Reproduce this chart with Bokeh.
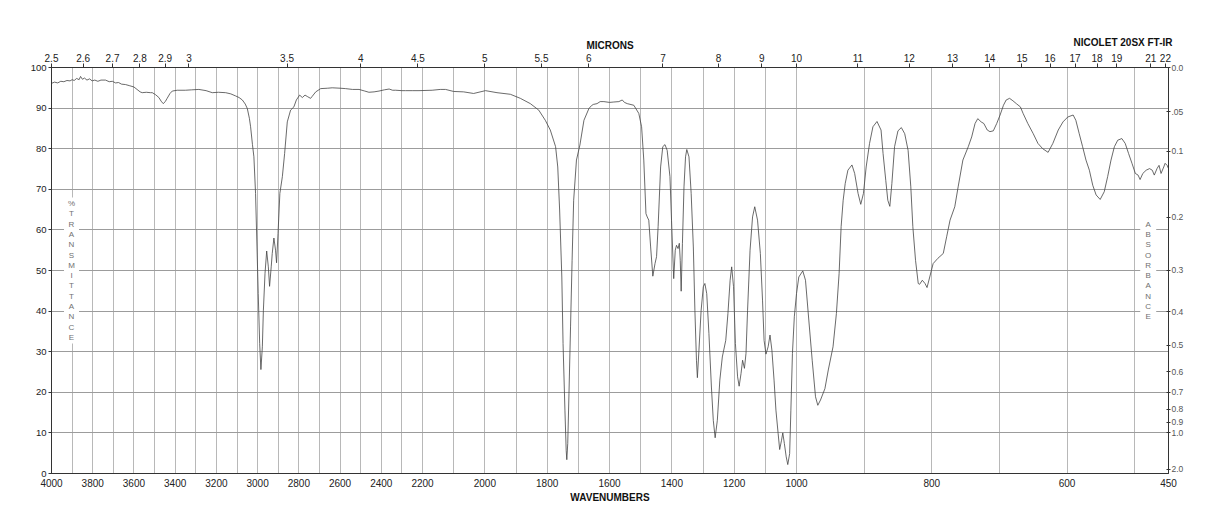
import numpy as np
from bokeh.plotting import figure
from bokeh.models import Range1d, LinearAxis, FixedTicker, Label, BoxAnnotation, ColumnDataSource, Title
from bokeh.embed import file_html
from bokeh.resources import INLINE

# ---------------- data ----------------
wavenumber = [
    4000, 3985, 3970, 3955, 3940, 3925, 3910, 3900, 3890, 3878, 3866, 3859, 3850, 3840, 3828,
    3815, 3803, 3790, 3775, 3760, 3738, 3720, 3705, 3689, 3675, 3660, 3641, 3620, 3600, 3585,
    3570, 3560, 3540, 3520, 3511, 3495, 3479, 3468, 3458, 3448, 3439, 3425, 3414, 3390, 3350,
    3320, 3285, 3250, 3220, 3190, 3155, 3130, 3107, 3090, 3074, 3060, 3050, 3040, 3034, 3025,
    3018, 3010, 3003, 2997, 2990, 2984, 2977, 2972, 2964, 2956, 2948, 2942, 2934, 2929, 2921,
    2913, 2908, 2901, 2892, 2880, 2869, 2856, 2840, 2824, 2812, 2796, 2783, 2770, 2757, 2743,
    2735, 2718, 2694, 2660, 2638, 2600, 2573, 2540, 2508, 2480, 2460, 2435, 2411, 2385, 2362,
    2345, 2330, 2300, 2282, 2250, 2217, 2169, 2143, 2126,
    2100, 2068, 2036, 1998, 1961, 1918, 1886, 1854, 1827, 1806, 1790, 1773, 1766, 1760, 1753,
    1749, 1743, 1739, 1737, 1734, 1730, 1725, 1720, 1715, 1706, 1695, 1682, 1666, 1658, 1652,
    1640, 1630, 1618, 1600, 1586, 1570, 1559, 1552, 1543, 1522, 1506, 1497, 1490, 1483, 1479,
    1474, 1468, 1461, 1454, 1449, 1444, 1436, 1429, 1422, 1415, 1406, 1401, 1394, 1389, 1385,
    1380, 1376, 1373, 1370, 1366, 1361, 1356, 1352, 1345, 1338, 1331, 1326, 1321, 1318, 1313,
    1306, 1299, 1294, 1288, 1281, 1273, 1267, 1261, 1254, 1246, 1238, 1227, 1220, 1213, 1208,
    1202, 1196, 1189, 1184, 1178, 1173, 1167, 1162, 1157, 1149, 1141, 1134, 1125, 1116, 1109,
    1104, 1098, 1091, 1085, 1079, 1072, 1066, 1059, 1054, 1048, 1044, 1039, 1033, 1028, 1022,
    1018, 1013, 1007, 1000, 996.6, 990.7, 986.7, 981.8, 976.8, 971.9, 968.5, 964.5,
    958, 953, 946, 941, 937, 934, 931, 928, 924, 918, 914, 909, 905, 901, 897,
    892, 887, 881, 875, 872, 868, 865, 862, 859, 855, 850, 845, 840, 835, 831,
    828, 824, 820, 818, 814, 810, 807, 803, 798, 791, 783, 778, 773, 766, 761,
    754, 746, 741, 736, 732, 727, 723, 718, 714, 709, 704, 699, 694, 690, 685,
    680, 675, 669, 665, 658, 650, 643, 636, 628, 621, 613, 606, 599, 591, 587,
    582, 577, 572, 567, 562, 557, 551, 545, 540, 535, 530, 525, 519, 514, 509,
    504, 499, 495, 492, 488, 483, 478, 474, 471, 467, 464, 461, 457, 455, 452, 450,
]
transmittance = [
    96.1, 96.4, 96.2, 96.6, 96.5, 96.8, 96.7, 97.0, 96.8, 97.3, 97.0, 97.8, 97.1, 97.4, 96.9,
    97.2, 96.7, 96.9, 96.6, 96.9, 96.9, 96.5, 96.6, 96.2, 96.3, 95.9, 95.8, 95.5, 95.2, 94.6,
    94.0, 93.8, 93.9, 93.8, 93.8, 93.3, 92.6, 91.7, 91.1, 91.6, 92.4, 93.6, 94.2, 94.4, 94.4,
    94.5, 94.6, 94.3, 93.8, 93.9, 93.8, 93.5, 93.0, 92.6, 92.0, 91.0, 89.9, 87.5, 85.4, 81.0,
    78.0, 69.0, 55.8, 44.3, 32.0, 25.6, 31.2, 40.2, 49.3, 54.8, 50.9, 46.1, 50.9, 54.2, 58.0,
    55.0, 51.9, 59.1, 69.0, 73.1, 78.8, 86.6, 89.5, 90.3, 92.0, 93.2, 92.6, 93.2, 92.8, 92.4,
    92.9, 94.0, 94.8, 94.9, 95.0, 94.9, 94.8, 94.6, 94.6, 94.2, 93.9, 94.0, 94.2, 94.5, 94.7,
    94.4, 94.4, 94.3, 94.3, 94.3, 94.3, 94.4, 94.6, 94.6,
    94.1, 94.0, 93.6, 94.3, 93.8, 93.4, 92.4, 91.1, 89.5, 87.0, 84.6, 80.5, 75.5, 64.9, 48.4,
    32.0, 15.6, 5.7, 3.4, 7.4, 19.7, 36.1, 52.5, 67.3, 77.2, 80.9, 87.0, 89.9, 90.6, 90.9,
    91.1, 91.6, 91.6, 91.4, 91.5, 91.6, 92.0, 91.4, 91.1, 90.7, 88.7, 85.4, 77.2, 64.0, 63.2,
    62.4, 55.8, 48.6, 51.7, 53.4, 60.8, 75.5, 80.5, 81.0, 79.6, 73.1, 62.4, 48.0, 55.0, 56.2,
    55.4, 56.7, 52.5, 44.9, 56.7, 70.6, 78.0, 79.8, 78.0, 69.0, 55.8, 40.2, 27.9, 23.6, 30.4,
    40.2, 46.0, 46.8, 44.3, 34.5, 21.3, 13.1, 8.8, 13.1, 23.0, 28.7, 32.8, 39.4, 47.6, 50.9,
    46.0, 32.0, 23.8, 21.5, 24.6, 27.9, 25.9, 29.6, 40.2, 55.0, 63.2, 65.7, 62.4, 54.2, 42.7,
    32.8, 29.4, 31.2, 34.1, 30.4, 23.0, 15.6, 9.9, 5.9, 8.2, 10.0, 7.4, 4.1, 2.2, 4.9,
    15.6, 29.6, 38.6, 44.3, 48.4, 49.9, 47.6, 37.8, 27.9, 18.9, 16.8, 18.1,
    20.9, 25.5, 31.2, 39.4, 49.3, 60.8, 67.3, 71.4, 74.7, 76.0, 73.9, 69.0, 66.3, 69.0, 75.5,
    81.3, 85.4, 86.7, 84.6, 78.8, 72.2, 67.3, 65.8, 71.4, 80.5, 84.4, 85.2, 83.7, 79.6, 70.6,
    60.8, 52.5, 46.8, 46.6, 47.6, 46.8, 45.8, 48.4, 51.7, 53.0, 54.2, 58.3, 62.4, 65.7, 70.6,
    77.2, 80.5, 82.9, 86.2, 87.4, 86.6, 86.2, 84.6, 84.2, 84.4, 86.2, 88.3, 90.7, 92.0, 92.4,
    91.8, 91.1, 90.3, 88.7, 86.2, 83.7, 81.3, 80.0, 79.1, 81.3, 84.6, 86.6, 87.8, 88.3, 87.0,
    83.7, 80.5, 77.2, 74.7, 71.0, 68.6, 67.5, 69.4, 73.1, 77.2, 80.5, 82.1, 82.5, 81.3, 78.8,
    76.4, 73.9, 73.5, 72.4, 73.9, 74.7, 75.1, 74.7, 73.5, 75.1, 75.9, 73.9, 75.5, 76.4, 75.9, 75.1,
]

wavenumber_ticks = [4000, 3800, 3600, 3400, 3200, 3000, 2800, 2600, 2400, 2200, 2000,
                    1800, 1600, 1400, 1200, 1000, 800, 600, 450]
micron_ticks = [2.5, 2.6, 2.7, 2.8, 2.9, 3, 3.5, 4, 4.5, 5, 5.5, 6, 7, 8, 9, 10,
                11, 12, 13, 14, 15, 16, 17, 18, 19, 21, 22]
micron_labels = ["2.5", "2.6", "2.7", "2.8", "2.9", "3", "3.5", "4", "4.5", "5", "5.5", "6",
                 "7", "8", "9", "10", "11", "12", "13", "14", "15", "16", "17", "18", "19",
                 "21", "22"]
absorbance_ticks = [0.0, 0.05, 0.1, 0.2, 0.3, 0.4, 0.5, 0.6, 0.7, 0.8, 0.9, 1.0, 2.0]
absorbance_labels = ["0.0", ".05", "0.1", "0.2", "0.3", "0.4", "0.5", "0.6", "0.7",
                     "0.8", "0.9", "1.0", "2.0"]
transmittance_ticks = list(range(0, 101, 10))

# ---------------- piecewise-linear wavenumber display scale ----------------
SCALE_WN = [450, 1000, 2200, 4000]
SCALE_U = [1117, 745, 371, 0]


def to_u(w):
    return float(round(float(np.interp(w, SCALE_WN, SCALE_U)), 4))


FONT = "Liberation Sans"

src = ColumnDataSource(dict(
    u=[to_u(w) for w in wavenumber],
    t=transmittance,
))

p = figure(frame_width=1117, frame_height=406,
           x_range=Range1d(0, 1117), y_range=Range1d(0, 100),
           output_backend="svg", toolbar_location=None,
           min_border_left=51, min_border_top=67, min_border_right=45, min_border_bottom=45,
           background_fill_color="white", border_fill_color="white")
p.outline_line_color = "#333333"

p.title = Title(text="NICOLET 20SX FT-IR", align="right", offset=-4, standoff=-22,
                vertical_align="bottom", text_font=FONT, text_font_size="10px",
                text_font_style="bold", text_color="#111111")

# grids
p.xgrid.ticker = FixedTicker(ticks=[to_u(w) for w in range(3900, 450, -100)])
p.ygrid.ticker = FixedTicker(ticks=list(range(10, 100, 10)))
p.xgrid.grid_line_color = "#b8b8b8"
p.ygrid.grid_line_color = "#9c9c9c"
p.xgrid.grid_line_width = 1
p.ygrid.grid_line_width = 1


def style_axis(ax, size):
    ax.axis_line_color = "#333333"
    ax.major_label_text_font = FONT
    ax.major_label_text_font_size = size
    ax.minor_tick_line_color = None
    ax.major_tick_line_color = "#333333"
    ax.axis_label_text_font = FONT
    ax.axis_label_text_font_size = "10px"
    ax.axis_label_text_font_style = "bold"
    ax.axis_label_text_color = "#111111"


# bottom: wavenumbers
xb = p.xaxis[0]
style_axis(xb, "10px")
xb.ticker = FixedTicker(ticks=[to_u(w) for w in wavenumber_ticks])
xb.major_label_overrides = {to_u(w): str(w) for w in wavenumber_ticks}
xb.major_tick_out = 0
xb.major_tick_in = 0
xb.major_label_standoff = 5
xb.major_label_text_color = "#222222"
xb.axis_label = "WAVENUMBERS"
xb.axis_label_standoff = 2

# left: % transmittance
yl = p.yaxis[0]
style_axis(yl, "9.5px")
yl.ticker = FixedTicker(ticks=transmittance_ticks)
yl.major_tick_out = 3
yl.major_tick_in = 0
yl.major_label_standoff = 2
yl.major_label_text_color = "#222222"

# top: microns
top_ticks = [to_u(10000.0 / m) for m in micron_ticks]
xt = LinearAxis(ticker=FixedTicker(ticks=top_ticks),
                major_label_overrides={t: l for t, l in zip(top_ticks, micron_labels)})
style_axis(xt, "10px")
xt.major_tick_out = 4
xt.major_tick_in = 0
xt.major_label_standoff = 2
xt.major_label_text_color = "#222222"
xt.axis_label = "MICRONS"
xt.axis_label_standoff = 0
p.add_layout(xt, "above")

# right: absorbance
abs_pos = [float(round(100.0 * 10 ** (-a), 4)) for a in absorbance_ticks]
yr = LinearAxis(ticker=FixedTicker(ticks=abs_pos),
                major_label_overrides={t: l for t, l in zip(abs_pos, absorbance_labels)})
style_axis(yr, "8.5px")
yr.major_tick_out = 2
yr.major_tick_in = 2
yr.major_label_standoff = 1
yr.major_label_text_color = "#555555"
p.add_layout(yr, "right")

# spectrum
p.line("u", "t", source=src, line_color="#444444", line_width=0.8)

# vertical stacked axis titles
px_per_t = 406 / 100.0
left_u = to_u(3900) - 0.6
right_u = to_u(480)
p.add_layout(BoxAnnotation(left=left_u - 7.5, right=left_u + 7.5, bottom=32.0, top=68.0,
                           fill_color="white", fill_alpha=1.0, line_color=None))
p.add_layout(BoxAnnotation(left=right_u - 8, right=right_u + 8, bottom=37.0, top=63.0,
                           fill_color="white", fill_alpha=1.0, line_color=None))

step = 10.3 / px_per_t
for txt, xu in (("%TRANSMITTANCE", left_u), ("ABSORBANCE", right_u)):
    n = len(txt)
    for i, ch in enumerate(txt):
        yv = 50.0 + ((n - 1) / 2.0 - i) * step
        p.add_layout(Label(x=xu, y=yv, text=ch, text_align="center", text_baseline="middle",
                           text_font=FONT, text_font_size="8px", text_color="#707070"))

open("out.html", "w").write(file_html(p, INLINE))
